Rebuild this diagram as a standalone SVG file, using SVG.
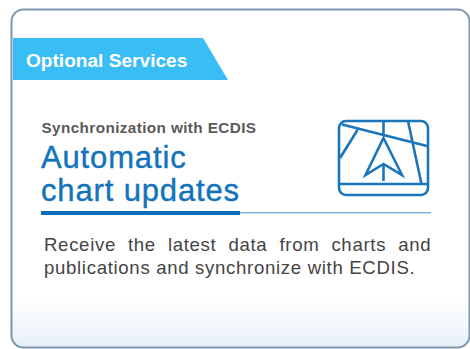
<svg xmlns="http://www.w3.org/2000/svg" width="470" height="349" viewBox="0 0 470 349">
<style>
text{font-family:"Liberation Sans",Arial,sans-serif}
.i{fill:none;stroke:#1a75bb;stroke-width:2.6;stroke-linejoin:miter}
.t{font-size:31px;fill:#1273bb;letter-spacing:.85px;stroke:#1273bb;stroke-width:.4}
.b{font-size:18.6px;fill:#444;letter-spacing:.68px}
</style>
<defs><linearGradient id="g" x1="0" y1="0" x2="0" y2="1"><stop offset="0" stop-color="#fff"/><stop offset=".86" stop-color="#fff"/><stop offset="1" stop-color="#e6eff8"/></linearGradient></defs>
<rect width="470" height="349" fill="#fff"/>
<g id="card"><rect x="11.5" y="9.500" width="458" height="338" rx="12" fill="url(#g)" stroke="#7e98ae" stroke-width="2"/></g>
<g id="tag"><polygon points="13,38 203,38 228,80 13,80" fill="#38bdf5"/>
<text x="26" y="67" font-size="19.100" font-weight="700" fill="#fff">Optional Services</text></g>
<g id="heading">
<text x="41.500" y="133" font-size="15.300" font-weight="700" fill="#5a5a5a" textLength="214.500" lengthAdjust="spacing">Synchronization with ECDIS</text>
<text x="41" y="168" class="t">Automatic</text>
<text x="41" y="201" class="t">chart updates</text>
<rect x="41" y="211" width="199" height="4" fill="#0b6cb8"/>
<rect x="240" y="212" width="191" height="1.500" fill="#7db4e0"/>
</g>
<g id="icon" class="i">
<rect x="339" y="121" width="89" height="74" rx="7"/>
<path d="M342 124.500 427 146M383.500 121V136M408 121 421.500 184M357.500 130 340 158M340 184H427M383.500 138 402 175 383.500 164 365.500 175ZM383.500 164V181"/>
</g>
<g id="body">
<text x="44" y="251" class="b" style="word-spacing:6.200px">Receive the latest data from charts and</text>
<text x="44" y="274" class="b">publications and synchronize with ECDIS.</text>
</g>
</svg>
